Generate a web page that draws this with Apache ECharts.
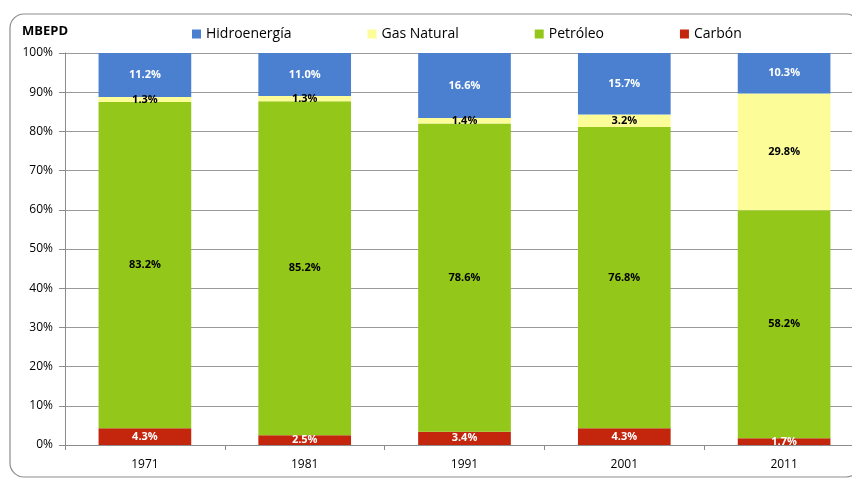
<!DOCTYPE html>
<html>
<head>
<meta charset="utf-8">
<script src="https://cdn.jsdelivr.net/npm/echarts@6/dist/echarts.min.js"></script>
<style>
  html, body { margin: 0; padding: 0; background: #fff; }
  #chart { width: 852px; height: 482px; }
</style>
</head>
<body>
<div id="chart"></div>
<script>
// data (% share of each source)
const years = ['1971', '1981', '1991', '2001', '2011'];
const carbon = [4.3, 2.5, 3.4, 4.3, 1.7];
const petroleo = [83.2, 85.2, 78.6, 76.8, 58.2];
const gasNatural = [1.3, 1.3, 1.4, 3.2, 29.8];
const hidro = [11.2, 11.0, 16.6, 15.7, 10.3];

const font = '"Open Sans", "Noto Sans", sans-serif';

function makeSeries(name, data, color, labelColor) {
  return {
    name: name,
    type: 'bar',
    stack: 'total',
    barWidth: '58%',
    data: data,
    itemStyle: {color: color},
    label: {
      show: true,
      position: 'inside',
      formatter: p => p.value.toFixed(1) + '%',
      color: labelColor,
      fontWeight: 'bold',
      fontSize: 11,
      fontFamily: font
    }
  };
}

let myEcharts = echarts.init(document.getElementById('chart'));
let option = {
  animation: false,
  backgroundColor: '#fff',
  textStyle: {fontFamily: font},
  graphic: [{
    type: 'rect',
    shape: {x: 10, y: 14, width: 850, height: 463, r: 14},
    style: {fill: 'none', stroke: '#8c8c8c', lineWidth: 1.2},
    silent: true
  }],
  title: {
    text: 'MBEPD',
    left: 17,
    top: 20,
    textStyle: {fontSize: 13, fontWeight: 'bold', color: '#000', fontFamily: font}
  },
  legend: {
    data: ['Hidroenergía', 'Gas Natural', 'Petróleo', 'Carbón'],
    top: 22,
    left: 187,
    itemWidth: 9,
    itemHeight: 9,
    itemGap: 76,
    icon: 'rect',
    textStyle: {fontSize: 14, color: '#000', fontFamily: font}
  },
  grid: {left: 65, width: 799, top: 53, height: 392, outerBoundsMode: 'none', containLabel: false},
  xAxis: {
    type: 'category',
    data: years,
    axisLine: {lineStyle: {color: '#8c8c8c'}},
    axisTick: {show: true, alignWithLabel: false, lineStyle: {color: '#8c8c8c'}},
    axisLabel: {color: '#000', fontSize: 12, margin: 14, fontFamily: font}
  },
  yAxis: {
    type: 'value',
    min: 0,
    max: 100,
    interval: 10,
    axisLine: {show: true, lineStyle: {color: '#8c8c8c'}},
    axisTick: {show: true, length: 6, lineStyle: {color: '#8c8c8c'}},
    axisLabel: {formatter: '{value}%', color: '#000', fontSize: 12, margin: 12, fontFamily: font},
    splitLine: {lineStyle: {color: '#9a9a9a'}}
  },
  series: [
    makeSeries('Carbón', carbon, '#c3260c', '#fff'),
    makeSeries('Petróleo', petroleo, '#93c81a', '#000'),
    makeSeries('Gas Natural', gasNatural, '#fcfc98', '#000'),
    makeSeries('Hidroenergía', hidro, '#4a80cf', '#fff')
  ]
};
myEcharts.setOption(option);
</script>
</body>
</html>
